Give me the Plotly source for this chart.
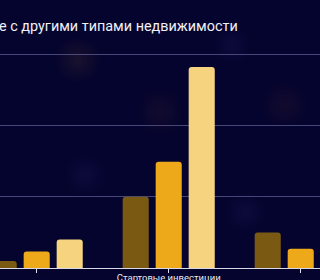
import plotly.graph_objects as go

categories = ["Срок окупаемости (лет)", "Стартовые инвестиции", "Годовая доходность (%)"]
series_names = ["Гараж", "Квартира", "Коммерческая"]
values_a = [1.0, 10.0, 5.0]
values_b = [2.3, 14.9, 2.7]
values_c = [4.0, 28.2, 1.5]
colors = ["#7a5a12", "#eea91a", "#f6d37f"]
title_text = "Сравнение с другими типами недвижимости"

# decorative background glows: (x px, y px, radius px, rgb)
glows = [(78, 60, 22, "150,110,90"), (160, 112, 22, "140,100,100"), (285, 105, 22, "140,100,100"),
         (85, 175, 20, "80,80,170"), (245, 212, 20, "80,80,170"), (232, 45, 18, "80,80,170")]

W, H, T, B = 320, 280, 52, 12
PH = H - T - B

fig = go.Figure()
for name, vals, col in zip(series_names, [values_a, values_b, values_c], colors):
    fig.add_trace(go.Bar(x=list(range(len(categories))), y=vals, name=name,
                         marker=dict(color=col, cornerradius=3, line=dict(width=0))))

shapes = []
for gx, gy, gr, rgb in glows:
    for k in range(6):
        r = gr * (1 - k / 6.5)
        shapes.append(dict(type="circle", xref="paper", yref="paper", layer="below",
                           x0=(gx - r) / W, x1=(gx + r) / W,
                           y0=(H - B - gy - r) / PH, y1=(H - B - gy + r) / PH,
                           line=dict(width=0), fillcolor=f"rgba({rgb},0.024)"))

bg = "#05042e"
fig.update_layout(
    width=W, height=H,
    margin=dict(l=0, r=0, t=T, b=B),
    paper_bgcolor=bg, plot_bgcolor=bg,
    barmode="group", bargap=0.25, bargroupgap=0.21,
    showlegend=False,
    shapes=shapes,
    font=dict(family="Roboto", color="#e8e8f0"),
    xaxis=dict(range=[-0.278, 2.146], tickmode="array", tickvals=[0, 1, 2],
               ticktext=categories, ticks="outside", ticklen=4, tickcolor="#e0e0e8",
               showline=True, linecolor="#d8d8e4", linewidth=1, showgrid=False,
               ticklabelstandoff=-3,
               tickfont=dict(size=9.5, color="#e8e8f0"), automargin=False),
    yaxis=dict(range=[0, 30.32], dtick=10, showticklabels=False, zeroline=False,
               showgrid=True, gridcolor="rgba(150,150,210,0.45)", gridwidth=1,
               automargin=False),
    annotations=[dict(text=title_text, xref="paper", yref="paper", x=0.75, y=1.116,
                      xanchor="right", yanchor="middle", showarrow=False,
                      font=dict(size=14.4, color="#f0f0f5", family="Roboto"))],
)

fig.write_html("out.html")
